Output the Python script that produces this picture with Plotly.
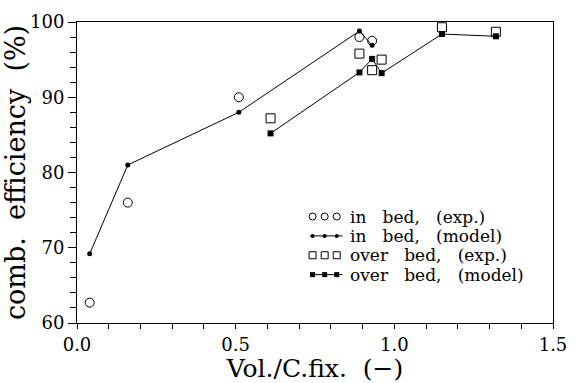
import plotly.graph_objects as go

# ---- data ----
inbed_exp_x = [0.04, 0.16, 0.51, 0.89, 0.93]
inbed_exp_y = [62.7, 76.0, 90.0, 98.0, 97.5]
inbed_mod_x = [0.04, 0.16, 0.51, 0.89, 0.93]
inbed_mod_y = [69.2, 81.0, 88.0, 98.8, 96.9]
overbed_exp_x = [0.61, 0.89, 0.93, 0.96, 1.15, 1.32]
overbed_exp_y = [87.2, 95.8, 93.6, 95.0, 99.3, 98.7]
overbed_mod_x = [0.61, 0.89, 0.93, 0.96, 1.15, 1.32]
overbed_mod_y = [85.2, 93.3, 95.1, 93.2, 98.4, 98.1]

legend_labels = ["in   bed,   (exp.)", "in   bed,   (model)",
                 "over   bed,   (exp.)", "over   bed,   (model)"]
x_tickvals = [0, 0.5, 1.0, 1.5]
x_ticktext = ["0.0", "0.5", "1.0", "1.5"]
y_tickvals = [60, 70, 80, 90, 100]
x_title = "Vol./C.fix.  (\u2212)"
y_title = "comb.  efficiency  (%)"

FONT = "DejaVu Serif"
BLACK = "#000000"

fig = go.Figure()

fig.add_trace(go.Scatter(x=inbed_mod_x, y=inbed_mod_y, mode="lines+markers",
                         line=dict(color=BLACK, width=1),
                         marker=dict(symbol="circle", size=5, color=BLACK),
                         showlegend=False))
fig.add_trace(go.Scatter(x=overbed_mod_x, y=overbed_mod_y, mode="lines+markers",
                         line=dict(color=BLACK, width=1),
                         marker=dict(symbol="square", size=6, color=BLACK),
                         showlegend=False))
fig.add_trace(go.Scatter(x=inbed_exp_x, y=inbed_exp_y, mode="markers",
                         marker=dict(symbol="circle-open", size=9, color=BLACK,
                                     line=dict(width=1)),
                         showlegend=False))
fig.add_trace(go.Scatter(x=overbed_exp_x, y=overbed_exp_y, mode="markers",
                         marker=dict(symbol="square-open", size=9, color=BLACK,
                                     line=dict(width=1)),
                         showlegend=False))

# ---- custom legend on an overlay axis measured in pixels ----
row_y = [220, 240, 260, 280]
sym_x = [318, 330.5, 343]
styles = [
    dict(mode="markers", marker=dict(symbol="circle-open", size=7, color=BLACK, line=dict(width=1))),
    dict(mode="lines+markers", line=dict(color=BLACK, width=1), marker=dict(symbol="circle", size=4, color=BLACK)),
    dict(mode="markers", marker=dict(symbol="square-open", size=7, color=BLACK, line=dict(width=1))),
    dict(mode="lines+markers", line=dict(color=BLACK, width=1), marker=dict(symbol="square", size=5, color=BLACK)),
]
for i, (ry, st) in enumerate(zip(row_y, styles)):
    if "lines" in st["mode"]:
        fig.add_trace(go.Scatter(x=[315.5, 349], y=[ry, ry], mode="lines", line=st["line"],
                                 xaxis="x2", yaxis="y2", showlegend=False, hoverinfo="skip"))
    fig.add_trace(go.Scatter(x=sym_x, y=[ry] * 3, mode="markers", marker=st["marker"],
                             xaxis="x2", yaxis="y2", showlegend=False, hoverinfo="skip"))
    fig.add_annotation(x=355, y=ry, xref="x2", yref="y2", text=legend_labels[i],
                       showarrow=False, xanchor="left", yanchor="middle",
                       font=dict(family=FONT, size=17, color=BLACK))

fig.update_layout(
    width=578, height=383,
    margin=dict(l=74, r=11, t=19, b=53),
    paper_bgcolor="white", plot_bgcolor="white",
    font=dict(family=FONT, color=BLACK),
    xaxis=dict(range=[0, 1.5], tickvals=x_tickvals, ticktext=x_ticktext,
               ticks="outside", ticklen=5, tickwidth=1, tickcolor=BLACK,
               minor=dict(dtick=0.1, ticks="outside", ticklen=5, tickwidth=1, tickcolor=BLACK),
               showline=True, linecolor=BLACK, linewidth=1, mirror=True,
               showgrid=False, zeroline=False, ticklabeloverflow="allow",
               tickfont=dict(family=FONT, size=18),
               title=dict(text=x_title, font=dict(family=FONT, size=25), standoff=0)),
    yaxis=dict(range=[60, 100], tickvals=y_tickvals,
               ticks="outside", ticklen=8, tickwidth=1, tickcolor=BLACK,
               minor=dict(dtick=2, ticks="outside", ticklen=6, tickwidth=1, tickcolor=BLACK),
               showline=True, linecolor=BLACK, linewidth=1, mirror=True,
               showgrid=False, zeroline=False,
               tickfont=dict(family=FONT, size=18),
               title=dict(text=y_title, font=dict(family=FONT, size=27), standoff=0)),
    xaxis2=dict(range=[74, 567], overlaying="x", visible=False, fixedrange=True),
    yaxis2=dict(range=[330, 19], overlaying="y", visible=False, fixedrange=True),
)

fig.write_html("out.html")
